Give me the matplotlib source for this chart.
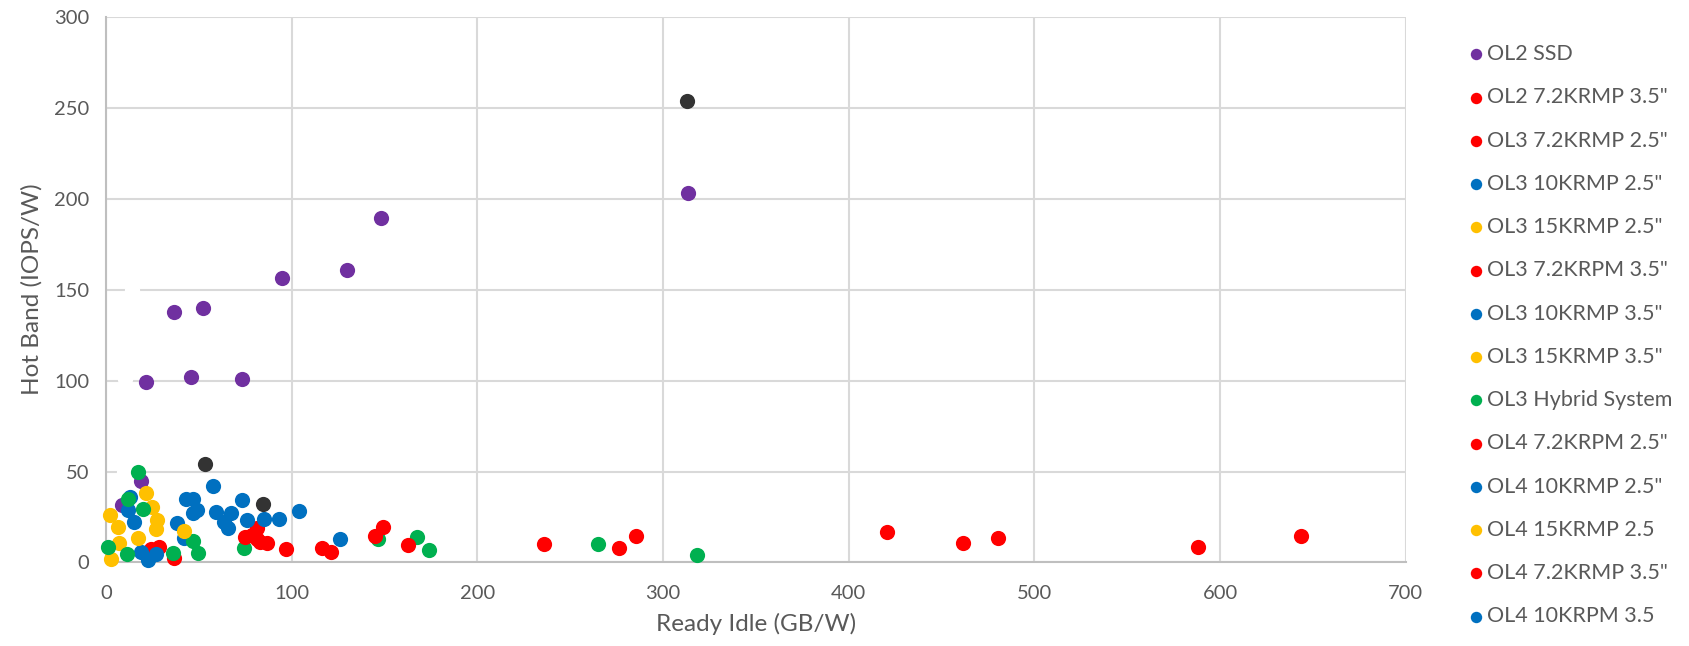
import matplotlib
matplotlib.use("Agg")
import matplotlib.pyplot as plt

# Ready Idle (GB/W) vs Hot Band (IOPS/W), one pair of lists per series
ol2_ssd_x = [21.6, 45.7, 73.2, 36.7, 52.5, 94.7, 129.7, 148.2, 313.7, 18.8, 8.9]
ol2_ssd_y = [99.0, 101.9, 100.8, 137.6, 139.8, 156.6, 160.8, 189.5, 203.4, 44.7, 31.5]

ol2_72_35_x = [420.6, 461.5, 480.7, 588.2, 643.5]
ol2_72_35_y = [16.7, 10.5, 13.3, 8.7, 14.5]

ol3_72_25_x = [24.3, 28.6, 27.0, 36.9]
ol3_72_25_y = [7.2, 8.7, 6.5, 2.3]

ol3_10_25_x = [13.0, 12.1, 15.4, 19.0, 22.9, 26.9]
ol3_10_25_y = [36.1, 28.8, 22.0, 5.9, 1.4, 4.5]

ol3_15_25_x = [21.5, 25.0, 2.3, 27.4, 6.4]
ol3_15_25_y = [38.0, 30.6, 26.1, 23.3, 19.6]

ol3_72_35_x = [235.9, 276.4, 285.7]
ol3_72_35_y = [10.0, 7.8, 14.5]

ol3_10_35_x = [38.5, 42.1, 43.2, 47.1, 48.9, 47.1]
ol3_10_35_y = [21.5, 13.3, 34.7, 34.7, 28.8, 27.3]

ol3_15_35_x = [27.0, 17.5, 7.1, 2.8]
ol3_15_35_y = [18.4, 13.3, 10.5, 1.7]

ol3_hyb_x = [17.5, 11.8, 19.9, 1.4, 11.2, 36.4, 47.1, 49.8, 74.4, 146.4, 167.4, 174.2, 265.0, 318.3]
ol3_hyb_y = [49.5, 34.7, 29.2, 8.3, 4.7, 5.0, 12.0, 5.4, 8.1, 12.7, 13.8, 6.9, 10.0, 4.1]

ol4_72_25_x = [81.2, 75.0, 78.6, 83.0, 86.6, 81.2]
ol4_72_25_y = [18.8, 14.2, 15.1, 11.4, 10.5, 12.8]

ol4_10_25_x = [57.5, 59.3, 67.4, 73.5, 63.7, 66.0]
ol4_10_25_y = [42.0, 27.9, 27.3, 34.3, 22.4, 18.8]

ol4_15_25_x = [42.1]
ol4_15_25_y = [17.5]

ol4_72_35_x = [97.0, 116.3, 121.1, 145.0, 149.4, 162.9]
ol4_72_35_y = [7.2, 7.8, 5.9, 14.5, 19.3, 9.6]

ol4_10_35_x = [75.9, 85.2, 93.4, 104.0, 126.1]
ol4_10_35_y = [23.3, 23.7, 23.7, 28.4, 12.9]

# series that are not in the legend
other_x = [53.4, 84.5, 313.1]
other_y = [54.4, 32.3, 253.7]
blank_x = [14.2, 10.2, 10.0]
blank_y = [150.0, 101.0, 50.0]

PURPLE, RED, BLUE, YELLOW, GREEN = "#7030A0", "#FF0000", "#0070C0", "#FFC000", "#00B050"

series = [
    ("OL2 SSD", ol2_ssd_x, ol2_ssd_y, PURPLE),
    ('OL2 7.2KRMP 3.5"', ol2_72_35_x, ol2_72_35_y, RED),
    ('OL3 7.2KRMP 2.5"', ol3_72_25_x, ol3_72_25_y, RED),
    ('OL3 10KRMP 2.5"', ol3_10_25_x, ol3_10_25_y, BLUE),
    ('OL3 15KRMP 2.5"', ol3_15_25_x, ol3_15_25_y, YELLOW),
    ('OL3 7.2KRPM 3.5"', ol3_72_35_x, ol3_72_35_y, RED),
    ('OL3 10KRMP 3.5"', ol3_10_35_x, ol3_10_35_y, BLUE),
    ('OL3 15KRMP 3.5"', ol3_15_35_x, ol3_15_35_y, YELLOW),
    ("OL3 Hybrid System", ol3_hyb_x, ol3_hyb_y, GREEN),
    ('OL4 7.2KRPM 2.5"', ol4_72_25_x, ol4_72_25_y, RED),
    ('OL4 10KRMP 2.5"', ol4_10_25_x, ol4_10_25_y, BLUE),
    ("OL4 15KRMP 2.5", ol4_15_25_x, ol4_15_25_y, YELLOW),
    ('OL4 7.2KRMP 3.5"', ol4_72_35_x, ol4_72_35_y, RED),
    ("OL4 10KRPM 3.5", ol4_10_35_x, ol4_10_35_y, BLUE),
]

plt.rcParams["font.family"] = ["Lato", "DejaVu Sans"]
TXT = "#595959"

fig = plt.figure(figsize=(16.9, 6.46), dpi=100)
ax = fig.add_axes([0.0626, 0.1293, 0.7692, 0.8447])

ax.scatter(blank_x, blank_y, s=120, color="white", zorder=2, linewidths=0)
for label, xs, ys, c in series:
    ax.scatter(xs, ys, s=120, color=c, label=label, zorder=3, linewidths=0,
               clip_on=False)
ax.scatter(other_x, other_y, s=120, color="#333333", zorder=3, linewidths=0,
           clip_on=False)

ax.set_xlim(0, 700)
ax.set_ylim(0, 300)
ax.set_xticks(range(0, 701, 100))
ax.set_yticks(range(0, 301, 50))
ax.grid(True, color="#D9D9D9", linewidth=1.5, zorder=0)
ax.set_axisbelow(True)
for s in ["top", "right"]:
    ax.spines[s].set_visible(False)
for s in ["left", "bottom"]:
    ax.spines[s].set_color("#BFBFBF")
    ax.spines[s].set_linewidth(1.5)
ax.tick_params(length=0, labelsize=14.5, labelcolor=TXT)
ax.tick_params(axis="x", pad=16)
ax.tick_params(axis="y", pad=12)
ax.set_xlabel("Ready Idle (GB/W)", fontsize=17.5, color=TXT, labelpad=8)
ax.set_ylabel("Hot Band (IOPS/W)", fontsize=17.5, color=TXT, labelpad=8)

fig.legend(loc="upper left", bbox_to_anchor=(0.862, 0.945), frameon=False,
           fontsize=15.5, labelcolor=TXT, handletextpad=0.0, markerscale=0.75,
           labelspacing=1.08, handlelength=1.0, borderaxespad=0)

fig.savefig("out.png", dpi=100)
